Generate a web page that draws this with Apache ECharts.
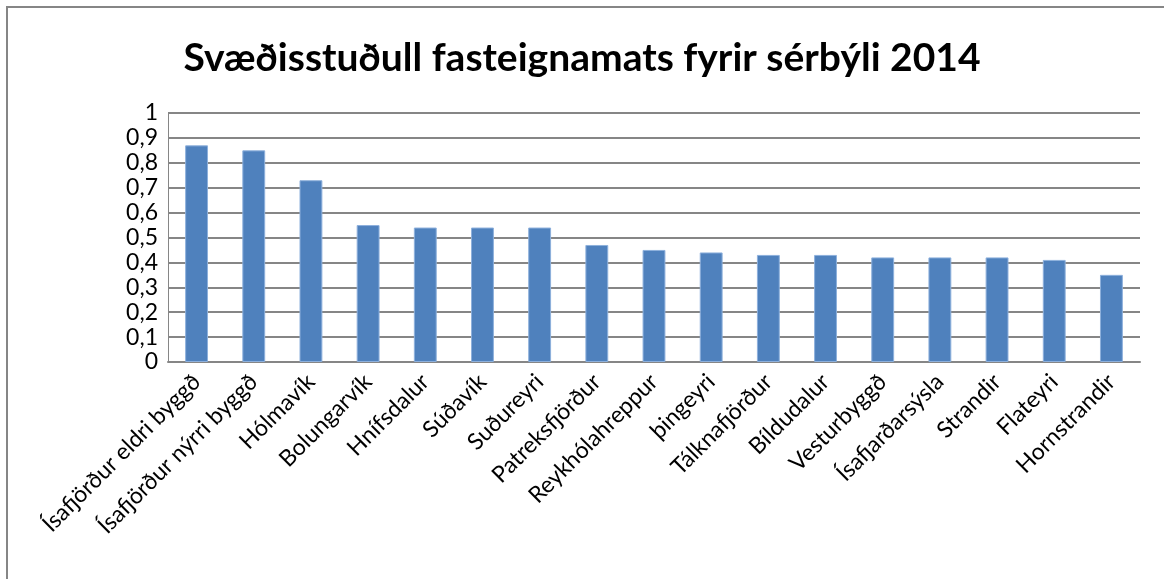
<!DOCTYPE html>
<html>
<head>
<meta charset="utf-8">
<script src="https://cdn.jsdelivr.net/npm/echarts@6/dist/echarts.min.js"></script>
<style>html,body{margin:0;padding:0;background:#fff;}#c{width:1164px;height:579px;}</style>
</head>
<body>
<div id="c"></div>
<script>
const titleText = 'Svæðisstuðull fasteignamats fyrir sérbýli 2014';
const categories = ['Ísafjörður eldri byggð','Ísafjörður nýrri byggð','Hólmavík','Bolungarvík','Hnífsdalur','Súðavík','Suðureyri','Patreksfjörður','Reykhólahreppur','þingeyri','Tálknafjörður','Bíldudalur','Vesturbyggð','Ísafjarðarsýsla','Strandir','Flateyri','Hornstrandir'];
const values = [0.87,0.85,0.73,0.55,0.54,0.54,0.54,0.47,0.45,0.44,0.43,0.43,0.42,0.42,0.42,0.41,0.35];

const chart = echarts.init(document.getElementById('c'), null, {renderer:'canvas'});
chart.setOption({
  animation:false,
  backgroundColor:'#fff',
  graphic:[{type:'rect',shape:{x:7,y:7,width:1170,height:590},style:{fill:'none',stroke:'#868686',lineWidth:2},z:-1}],
  title:{text:titleText,left:'center',top:34,textStyle:{fontFamily:'Lato',fontWeight:'bold',fontSize:39,color:'#000'}},
  grid:{left:168,right:24,top:113,bottom:217},
  xAxis:{type:'category',data:categories,
    axisLine:{lineStyle:{color:'#868686',width:2}},axisTick:{show:false},
    axisLabel:{rotate:45,interval:0,fontFamily:'Lato',fontSize:23,color:'#000',margin:16}},
  yAxis:{type:'value',min:0,max:1,interval:0.1,
    axisLine:{show:true,lineStyle:{color:'#868686',width:1}},axisTick:{show:false},
    splitLine:{lineStyle:{color:'#868686',width:2}},
    axisLabel:{fontFamily:'Lato',fontSize:23,color:'#000',margin:10,
      formatter:v=>String(Math.round(v*10)/10).replace('.',',')}},
  series:[{type:'bar',data:values,barWidth:'40%',itemStyle:{color:'#4F81BD',borderColor:'#8DB0DC',borderWidth:1}}]
});
</script>
</body>
</html>
